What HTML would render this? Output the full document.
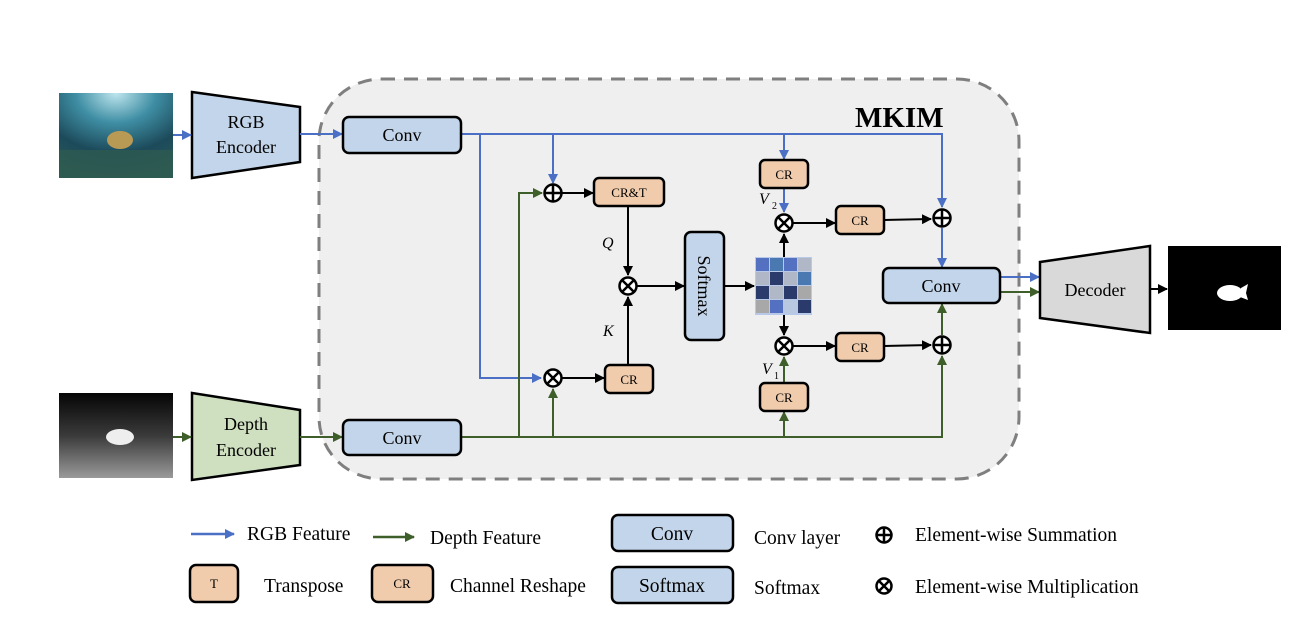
<!DOCTYPE html>
<html><head><meta charset="utf-8"><style>
html,body{margin:0;padding:0;background:#fff;}
svg{display:block;font-family:"Liberation Serif",serif;}
</style></head><body>
<svg width="1299" height="618" viewBox="0 0 1299 618" xmlns="http://www.w3.org/2000/svg">
<defs>
<marker id="ab" markerWidth="10" markerHeight="10" refX="9" refY="5" orient="auto" markerUnits="userSpaceOnUse"><path d="M0,0 L10,5 L0,10 z" fill="#4a6fc5"/></marker>
<marker id="ag" markerWidth="10" markerHeight="10" refX="9" refY="5" orient="auto" markerUnits="userSpaceOnUse"><path d="M0,0 L10,5 L0,10 z" fill="#3f5f2a"/></marker>
<marker id="ak" markerWidth="10" markerHeight="10" refX="9" refY="5" orient="auto" markerUnits="userSpaceOnUse"><path d="M0,0 L10,5 L0,10 z" fill="#000"/></marker>
<radialGradient id="sea" cx="0.5" cy="0" r="1"><stop offset="0" stop-color="#bfe6ee"/><stop offset="0.35" stop-color="#3f8ea4"/><stop offset="0.7" stop-color="#1c4a5a"/><stop offset="1" stop-color="#2a5a58"/></radialGradient>
<linearGradient id="dep" x1="0" y1="0" x2="0" y2="1"><stop offset="0" stop-color="#050505"/><stop offset="0.5" stop-color="#3a3a3a"/><stop offset="1" stop-color="#9a9a9a"/></linearGradient>
</defs>

<rect x="319" y="79" width="700" height="400" rx="62" fill="#efefef" stroke="#7f7f7f" stroke-width="3" stroke-dasharray="14,9"/>
<text x="855" y="127" font-size="29" font-weight="bold">MKIM</text>

<rect x="59" y="93" width="114" height="85" fill="url(#sea)"/>
<rect x="59" y="150" width="114" height="28" fill="#2e5a50" opacity="0.8"/>
<ellipse cx="120" cy="140" rx="13" ry="9" fill="#b89a55"/>
<rect x="59" y="393" width="114" height="85" fill="url(#dep)"/>
<ellipse cx="120" cy="437" rx="14" ry="8" fill="#eee"/>

<polygon points="192,92 300,107 300,162 192,178" fill="#c3d5ea" stroke="#000" stroke-width="2.5"/>
<text x="246" y="128" font-size="18" text-anchor="middle">RGB</text>
<text x="246" y="153" font-size="18" text-anchor="middle">Encoder</text>
<polygon points="192,393 300,410 300,465 192,480" fill="#cfe0c0" stroke="#000" stroke-width="2.5"/>
<text x="246" y="430" font-size="18" text-anchor="middle">Depth</text>
<text x="246" y="456" font-size="18" text-anchor="middle">Encoder</text>
<line x1="173" y1="135" x2="191" y2="135" stroke="#4a6fc5" stroke-width="2" marker-end="url(#ab)"/>
<line x1="173" y1="437" x2="191" y2="437" stroke="#3f5f2a" stroke-width="2" marker-end="url(#ag)"/>
<line x1="300" y1="134" x2="342" y2="134" stroke="#4a6fc5" stroke-width="2" marker-end="url(#ab)"/>
<line x1="300" y1="437" x2="342" y2="437" stroke="#3f5f2a" stroke-width="2" marker-end="url(#ag)"/>

<g stroke="#4a6fc5" stroke-width="2" fill="none">
<polyline points="461,134 942,134 942,207" marker-end="url(#ab)"/>
<polyline points="480,134 480,378 541,378" marker-end="url(#ab)"/>
<line x1="553" y1="134" x2="553" y2="183" marker-end="url(#ab)"/>
<line x1="784" y1="134" x2="784" y2="159" marker-end="url(#ab)"/>
<line x1="784" y1="188" x2="784" y2="212" marker-end="url(#ab)"/>
<line x1="942" y1="228" x2="942" y2="267" marker-end="url(#ab)"/>
<line x1="1000" y1="277" x2="1039" y2="277" marker-end="url(#ab)"/>
</g>
<g stroke="#3f5f2a" stroke-width="2" fill="none">
<polyline points="461,437 942,437 942,356" marker-end="url(#ag)"/>
<polyline points="519,437 519,193 542,193" marker-end="url(#ag)"/>
<line x1="553" y1="437" x2="553" y2="389" marker-end="url(#ag)"/>
<line x1="784" y1="437" x2="784" y2="412" marker-end="url(#ag)"/>
<line x1="784" y1="383" x2="784" y2="357" marker-end="url(#ag)"/>
<line x1="942" y1="335" x2="942" y2="304" marker-end="url(#ag)"/>
<line x1="1000" y1="292" x2="1039" y2="292" marker-end="url(#ag)"/>
</g>
<g stroke="#000" stroke-width="2" fill="none">
<line x1="562" y1="193" x2="593" y2="193" marker-end="url(#ak)"/>
<line x1="628" y1="206" x2="628" y2="275" marker-end="url(#ak)"/>
<line x1="628" y1="365" x2="628" y2="297" marker-end="url(#ak)"/>
<line x1="562" y1="378" x2="604" y2="378" marker-end="url(#ak)"/>
<line x1="637" y1="286" x2="684" y2="286" marker-end="url(#ak)"/>
<line x1="724" y1="286" x2="754" y2="286" marker-end="url(#ak)"/>
<line x1="784" y1="257" x2="784" y2="234" marker-end="url(#ak)"/>
<line x1="784" y1="315" x2="784" y2="335" marker-end="url(#ak)"/>
<line x1="793" y1="223" x2="835" y2="223" marker-end="url(#ak)"/>
<line x1="884" y1="220" x2="931" y2="219" marker-end="url(#ak)"/>
<line x1="793" y1="346" x2="835" y2="346" marker-end="url(#ak)"/>
<line x1="884" y1="346" x2="931" y2="345" marker-end="url(#ak)"/>
<line x1="1150" y1="289" x2="1167" y2="289" marker-end="url(#ak)"/>
</g>

<g stroke="#000" stroke-width="2.5" fill="#c3d5ea">
<rect x="343" y="117" width="118" height="36" rx="6"/>
<rect x="343" y="420" width="118" height="35" rx="6"/>
<rect x="883" y="268" width="117" height="35" rx="6"/>
<rect x="685" y="232" width="39" height="108" rx="6"/>
</g>
<g font-size="18" text-anchor="middle">
<text x="402" y="141">Conv</text>
<text x="402" y="444">Conv</text>
<text x="941" y="292">Conv</text>
<text transform="translate(698,286) rotate(90)" y="0">Softmax</text>
</g>

<g stroke="#000" stroke-width="2.5" fill="#f0ccad">
<rect x="594" y="178" width="70" height="28" rx="5"/>
<rect x="605" y="365" width="48" height="28" rx="5"/>
<rect x="760" y="160" width="48" height="28" rx="5"/>
<rect x="760" y="383" width="48" height="28" rx="5"/>
<rect x="836" y="206" width="48" height="28" rx="5"/>
<rect x="836" y="333" width="48" height="28" rx="5"/>
</g>
<g font-size="13" text-anchor="middle">
<text x="629" y="197">CR&amp;T</text>
<text x="629" y="384">CR</text>
<text x="784" y="179">CR</text>
<text x="784" y="402">CR</text>
<text x="860" y="225">CR</text>
<text x="860" y="352">CR</text>
</g>
<g font-size="16" font-style="italic">
<text x="602" y="248">Q</text>
<text x="603" y="336">K</text>
<text x="759" y="204">V</text><text x="772" y="209" font-size="10" font-style="normal">2</text>
<text x="762" y="374">V</text><text x="774" y="379" font-size="10" font-style="normal">1</text>
</g>

<g>
<rect x="755" y="257" width="57" height="58" fill="#b8c8e8"/>
<rect x="756" y="258" width="13" height="13" fill="#5470c0"/><rect x="770" y="258" width="13" height="13" fill="#4a78b0"/><rect x="784" y="258" width="13" height="13" fill="#5470c0"/><rect x="798" y="258" width="13" height="13" fill="#b0b8c8"/>
<rect x="756" y="272" width="13" height="13" fill="#b0b8c8"/><rect x="770" y="272" width="13" height="13" fill="#2a3a6a"/><rect x="784" y="272" width="13" height="13" fill="#b0b8c8"/><rect x="798" y="272" width="13" height="13" fill="#4a78b0"/>
<rect x="756" y="286" width="13" height="13" fill="#2a3a6a"/><rect x="770" y="286" width="13" height="13" fill="#b0b8c8"/><rect x="784" y="286" width="13" height="13" fill="#2a3a6a"/><rect x="798" y="286" width="13" height="13" fill="#a8a8a8"/>
<rect x="756" y="300" width="13" height="13" fill="#a8a8a8"/><rect x="770" y="300" width="13" height="13" fill="#5470c0"/><rect x="784" y="300" width="13" height="13" fill="#b8c8e0"/><rect x="798" y="300" width="13" height="13" fill="#2a3a6a"/>
</g>

<g stroke="#000" stroke-width="2.5" fill="#fff">
<circle cx="553" cy="193" r="8.5"/><path d="M544.5,193 H561.5 M553,184.5 V201.5" fill="none"/>
<circle cx="942" cy="218" r="8.5"/><path d="M933.5,218 H950.5 M942,209.5 V226.5"/>
<circle cx="942" cy="345" r="8.5"/><path d="M933.5,345 H950.5 M942,336.5 V353.5"/>
<circle cx="553" cy="378" r="8.5"/><path d="M547,372 L559,384 M559,372 L547,384"/>
<circle cx="628" cy="286" r="8.5"/><path d="M622,280 L634,292 M634,280 L622,292"/>
<circle cx="784" cy="223" r="8.5"/><path d="M778,217 L790,229 M790,217 L778,229"/>
<circle cx="784" cy="346" r="8.5"/><path d="M778,340 L790,352 M790,340 L778,352"/>
</g>

<polygon points="1040,262 1150,246 1150,333 1040,318" fill="#d9d9d9" stroke="#000" stroke-width="2.5"/>
<text x="1095" y="296" font-size="18" text-anchor="middle">Decoder</text>
<rect x="1168" y="246" width="113" height="84" fill="#000"/>
<ellipse cx="1230" cy="293" rx="13" ry="8" fill="#fff"/>
<path d="M1241,288 L1248,284 L1246,293 L1248,300 L1240,297 z" fill="#fff"/>

<g font-size="19.5">
<line x1="191" y1="534" x2="234" y2="534" stroke="#4a6fc5" stroke-width="2.5" marker-end="url(#ab)"/>
<text x="247" y="540">RGB Feature</text>
<line x1="373" y1="537" x2="414" y2="537" stroke="#3f5f2a" stroke-width="2.5" marker-end="url(#ag)"/>
<text x="430" y="544">Depth Feature</text>
<rect x="612" y="515" width="121" height="36" rx="6" fill="#c3d5ea" stroke="#000" stroke-width="2.5"/>
<text x="672" y="540" text-anchor="middle">Conv</text>
<text x="754" y="544">Conv layer</text>
<circle cx="884" cy="535" r="7.5" fill="#fff" stroke="#000" stroke-width="2.5"/><path d="M876.5,535 H891.5 M884,527.5 V542.5" stroke="#000" stroke-width="2.5"/>
<text x="915" y="541">Element-wise Summation</text>

<rect x="190" y="565" width="48" height="37" rx="6" fill="#f0ccad" stroke="#000" stroke-width="2.5"/>
<text x="214" y="588" font-size="13" text-anchor="middle">T</text>
<text x="264" y="592">Transpose</text>
<rect x="372" y="565" width="61" height="37" rx="6" fill="#f0ccad" stroke="#000" stroke-width="2.5"/>
<text x="402" y="588" font-size="13" text-anchor="middle">CR</text>
<text x="450" y="592">Channel Reshape</text>
<rect x="612" y="567" width="121" height="36" rx="6" fill="#c3d5ea" stroke="#000" stroke-width="2.5"/>
<text x="672" y="592" text-anchor="middle">Softmax</text>
<text x="754" y="594">Softmax</text>
<circle cx="884" cy="586" r="7.5" fill="#fff" stroke="#000" stroke-width="2.5"/><path d="M879,581 L889,591 M889,581 L879,591" stroke="#000" stroke-width="2.5"/>
<text x="915" y="593">Element-wise Multiplication</text>
</g>
</svg>
</body></html>
